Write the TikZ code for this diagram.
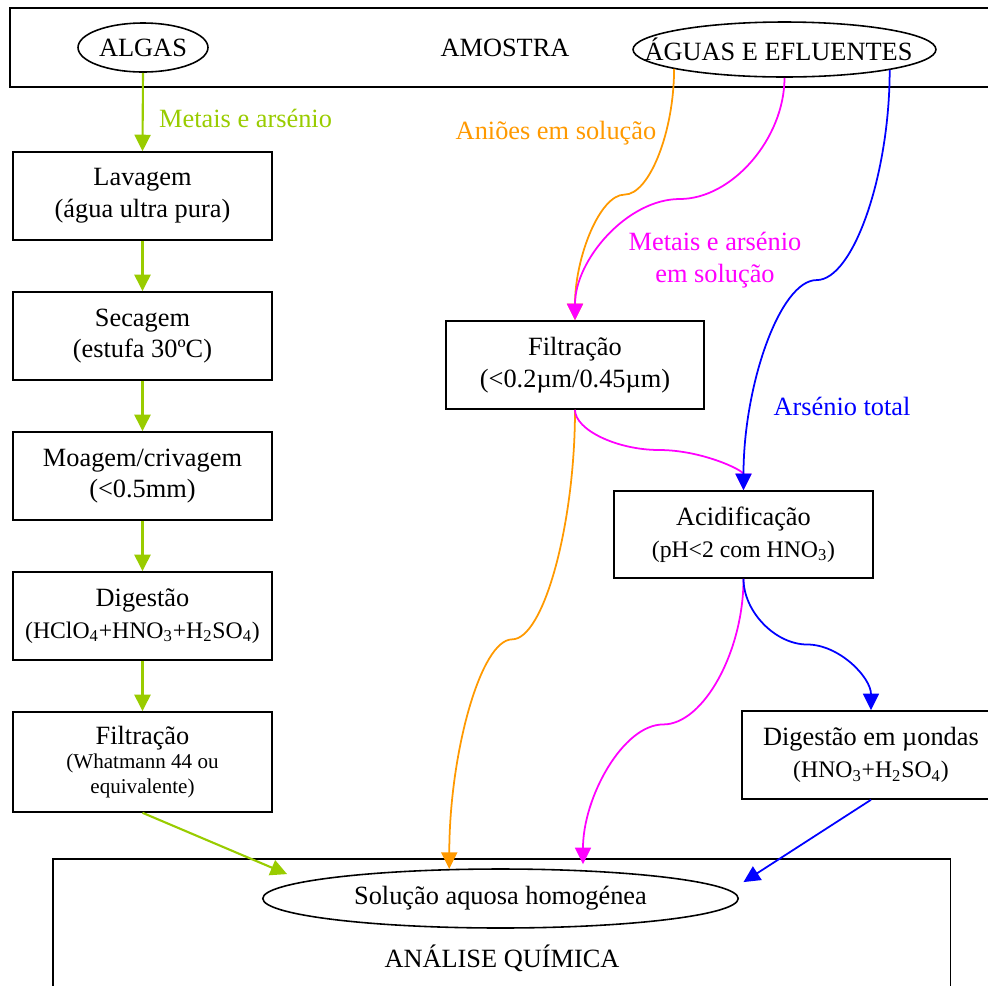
\documentclass[tikz,border=0pt]{standalone}
\usepackage{fontspec}
\setmainfont{Liberation Serif}
\usetikzlibrary{calc,positioning,shapes.geometric,arrows.meta}
\definecolor{algae}{HTML}{99CC00}
\definecolor{anion}{HTML}{FF9900}
\definecolor{metal}{HTML}{FF00FF}
\definecolor{arsen}{HTML}{0000FF}

\begin{document}
\begin{tikzpicture}[x=0.02cm, y=-0.02cm,
        font=\fontsize{15}{18}\selectfont,
        box/.style={draw, line width=0.9pt, minimum width=5.18cm, minimum height=1.76cm, align=center, inner sep=0pt},
        oval/.style={draw, ellipse, line width=0.9pt, inner sep=0pt},
        tip/.style={-{Triangle[length=0.33cm,width=0.32cm]}},
        greenline/.style={tip, draw=algae, line width=1.2pt},
        anionline/.style={tip, draw=anion, line width=1pt},
        metalline/.style={tip, draw=metal, line width=1pt},
        arsenline/.style={tip, draw=arsen, line width=1pt},
        wcurve/.style={to path={let \p1=(\tikztostart), \p2=(\tikztotarget) in
            .. controls (\x1,{(3*\y1+\y2)/4}) and ({(3*\x1+\x2)/4},{(\y1+\y2)/2}) .. ({(\x1+\x2)/2},{(\y1+\y2)/2})
            .. controls ({(\x1+3*\x2)/4},{(\y1+\y2)/2}) and (\x2,{(\y1+3*\y2)/4}) .. (\p2)}}]

    \useasboundingbox (0,0) rectangle (988,985);

    % Frames
    \node[draw, line width=0.9pt, minimum width=19.8cm, minimum height=1.58cm] (amostra) at (505,47.5) {AMOSTRA};
    \node[draw, line width=0.9pt, minimum width=17.96cm, minimum height=3cm, anchor=north west] (analise) at (52,858) {};
    \node (analisetxt) at (502,958) {ANÁLISE QUÍMICA};

    % Samples and final solution
    \node[oval, minimum width=2.6cm, minimum height=0.98cm] (algas) at (143,47.5) {\makebox[0pt]{ALGAS}};
    \node[oval, minimum width=6.06cm, minimum height=1.1cm] (aguas) at (784.5,49.5) {\makebox[0pt]{ÁGUAS E EFLUENTES\hspace{0.24cm}}};
    \node[oval, minimum width=9.51cm, minimum height=1.18cm] (sol) at (500.5,898.5) {\makebox[0pt]{Solução aquosa homogénea}};

    % Algae treatment
    \node[box] (lav) at (142.5,196) {Lavagem\\(água ultra pura)};
    \node[box] (sec) at (142.5,336) {Secagem\\(estufa 30ºC)};
    \node[box] (moa) at (142.5,476) {Moagem/crivagem\\(<0.5mm)};
    \node[box] (dig) at (142.5,616)
        {Digestão\\\fontsize{13.5}{16}\selectfont(HClO\textsubscript{4}+HNO\textsubscript{3}+H\textsubscript{2}SO\textsubscript{4})};
    \node[box, minimum height=2cm] (filA) at (142.5,762)
        {Filtração\\[-4pt]\fontsize{12}{13}\selectfont(Whatmann 44 ou\\[-4pt]\fontsize{12}{13}\selectfont equivalente)};

    % Water treatment
    \node[box, minimum width=5.16cm] (filB) at (575,365) {Filtração\\(<0.2µm/0.45µm)};
    \node[box, minimum height=1.74cm] (acid) at (743.5,534.5)
        {Acidificação\\\fontsize{13.5}{16}\selectfont(pH<2 com HNO\textsubscript{3})};
    \node[box, minimum width=5.16cm] (digmu) at (871,755)
        {Digestão em µondas\\\fontsize{13.5}{16}\selectfont(HNO\textsubscript{3}+H\textsubscript{2}SO\textsubscript{4})};

    % Algae arrows
    \foreach \a/\b in {algas/lav, lav/sec, sec/moa, moa/dig, dig/filA}
        \draw[greenline] (\a.south) -- (\b.north);
    \draw[greenline, shorten >=0.37cm] (filA.south) -- (sol.175.4);
    \node[text=algae, anchor=west] (lblalgas) at (153,118) {Metais e arsénio};

    % Water arrows
    \draw[anionline] (aguas.190) to[wcurve] (filB.north);
    \draw[anionline] (filB.south) to[wcurve] (sol.150.8);
    \draw[metalline] (aguas.south) to[wcurve] (filB.north);
    \draw[metalline] (filB.south) to[wcurve] (acid.north);
    \draw[metalline, shorten >=0.12cm] (acid.south) to[wcurve] (sol.19);
    \draw[arsenline] (aguas.349.4) to[wcurve] (acid.north);
    \draw[arsenline] (acid.south) to[wcurve] (digmu.north);
    \draw[arsenline, shorten >=0.31cm] (digmu.south) -- (sol.2.7);

    % Labels
    \node[text=anion] (lblanion) at (556,133) {Aniões em solução};
    \node[text=metal, align=center] (lblmetal) at (715,260) {Metais e arsénio\\em solução};
    \node[text=arsen] (lblarsen) at (842,406) {Arsénio total};
\end{tikzpicture}
\end{document}
